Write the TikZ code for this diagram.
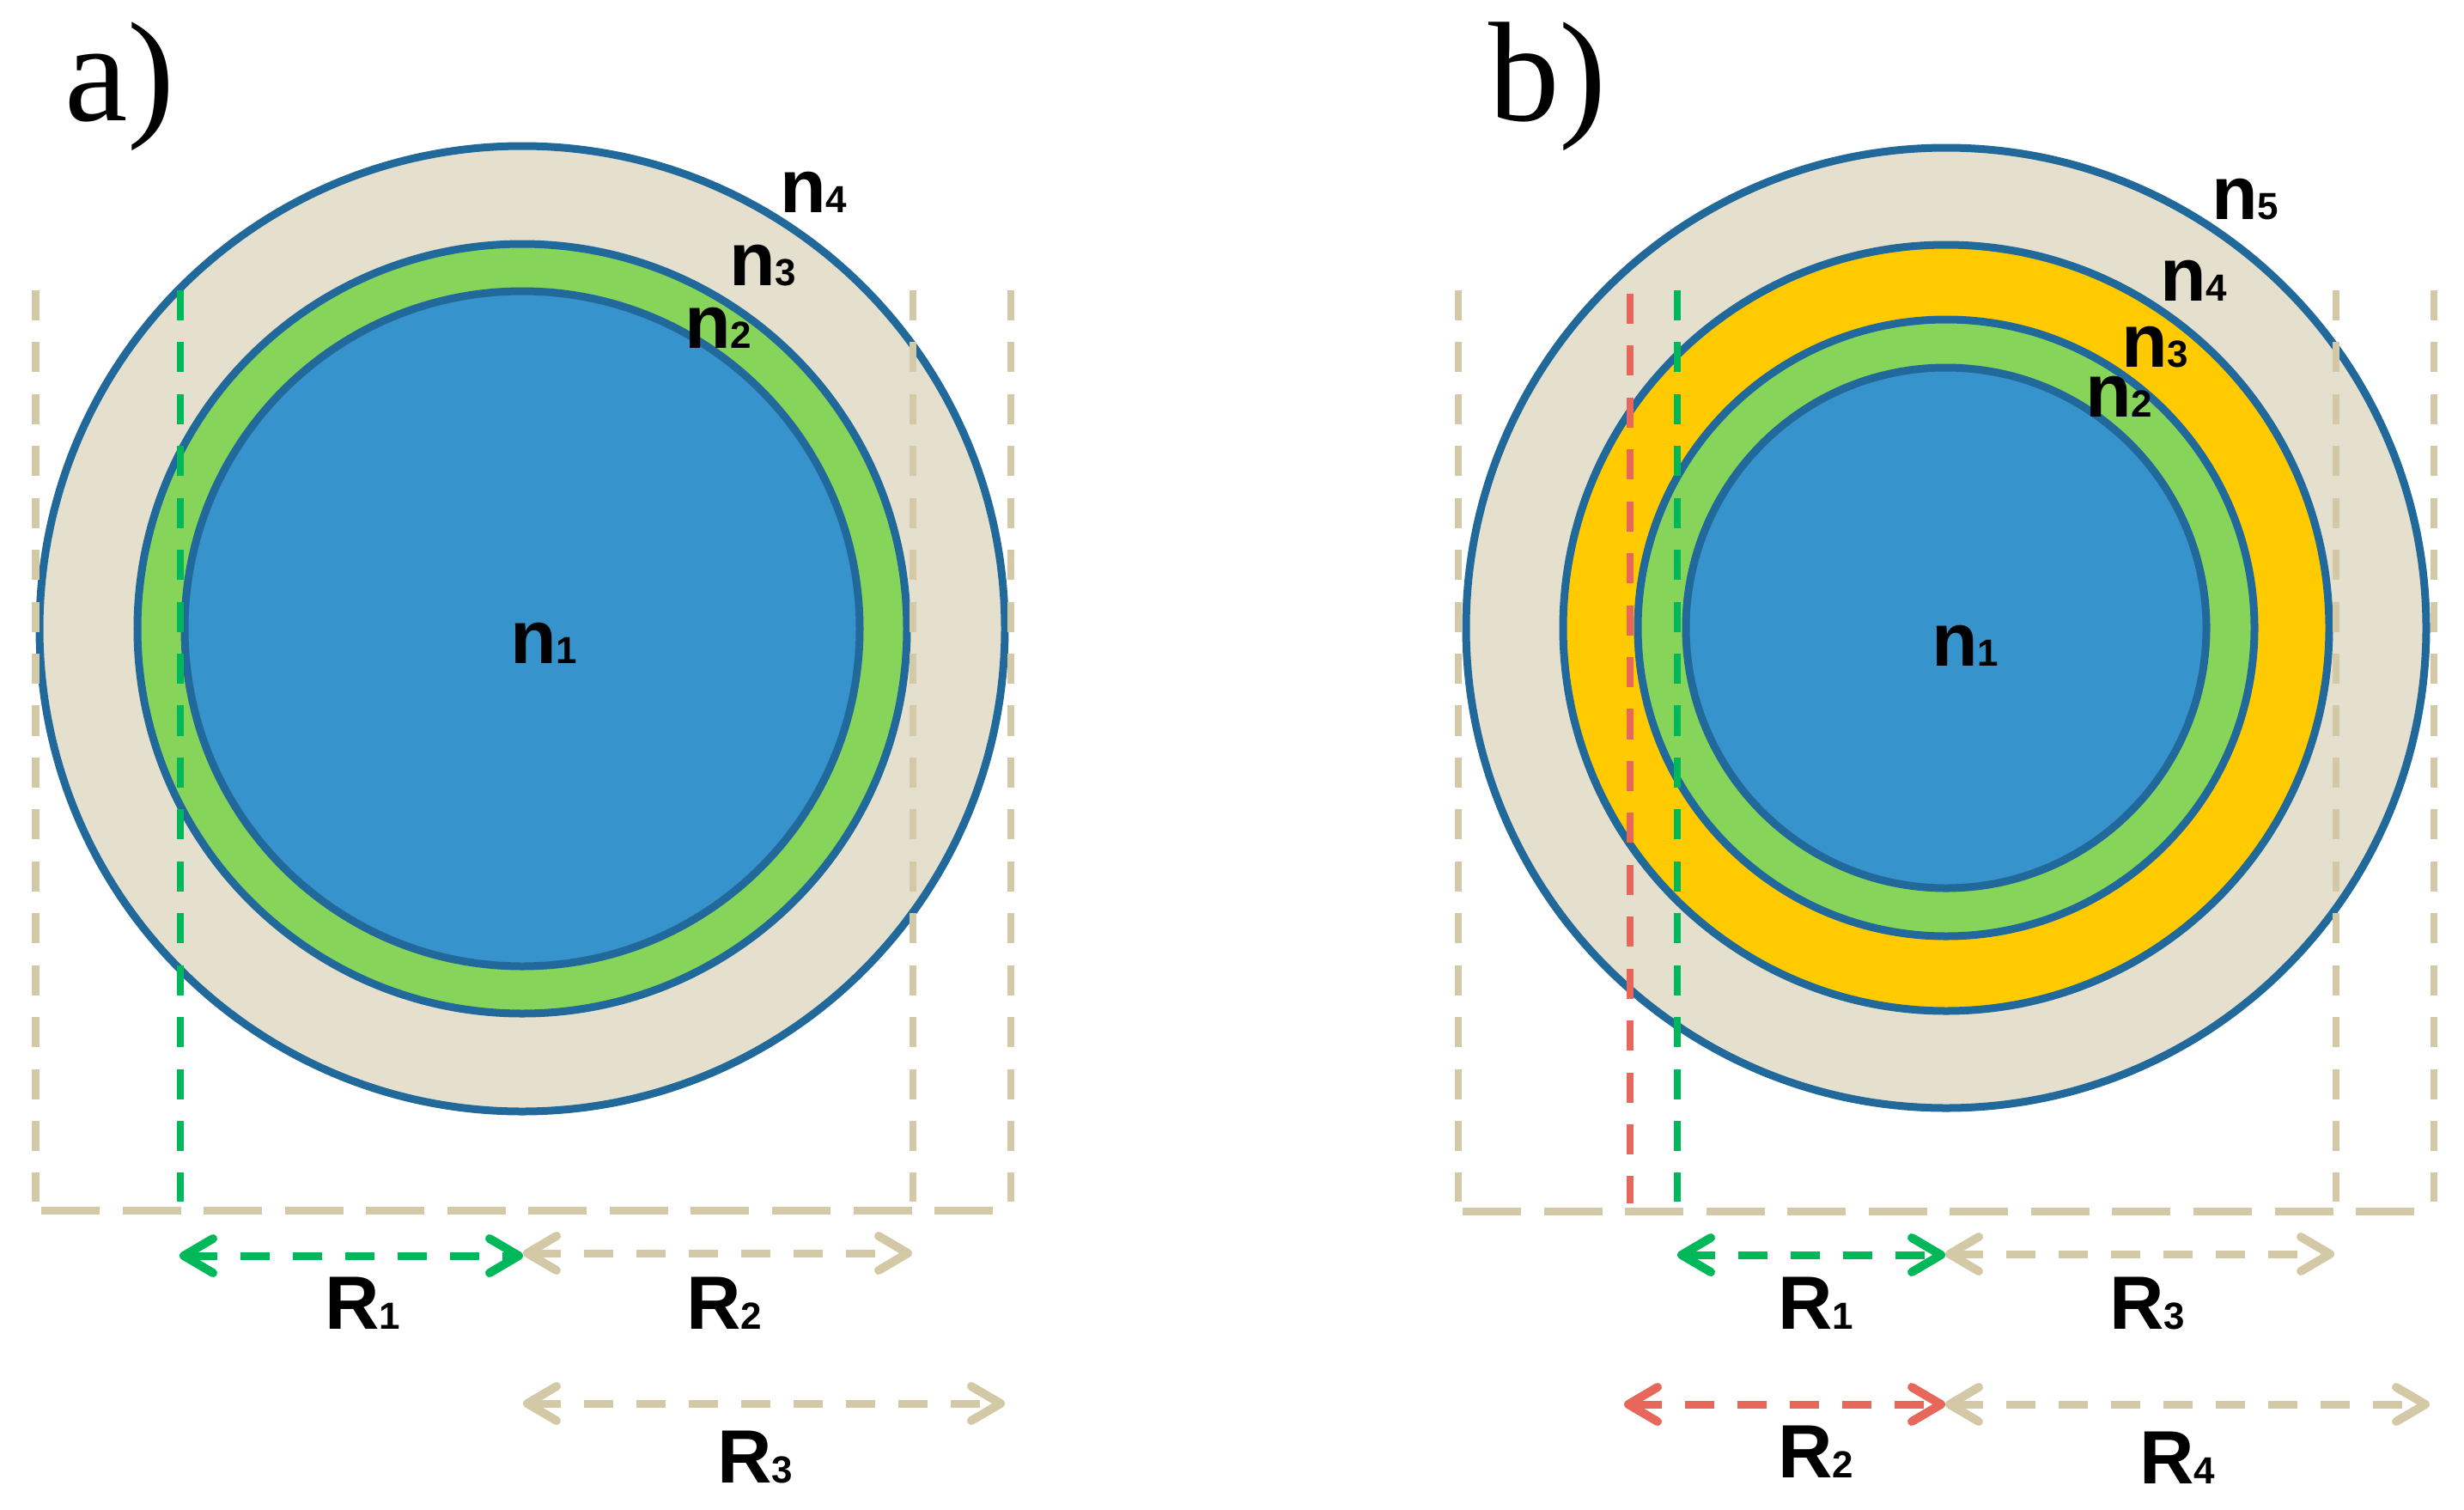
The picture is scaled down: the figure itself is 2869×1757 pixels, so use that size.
\documentclass[tikz,border=0pt]{standalone}
\usepackage{fontspec}
\setmainfont{Liberation Sans}
\newfontfamily\panelfont{Liberation Serif}
\usetikzlibrary{arrows.meta}
\definecolor{ringline}{HTML}{22699B}
\definecolor{bluefill}{HTML}{3793CB}
\definecolor{greenfill}{HTML}{86D55A}
\definecolor{beigefill}{HTML}{E5E0CD}
\definecolor{yellowfill}{HTML}{FFCB00}
\definecolor{beigedash}{HTML}{D4C9A6}
\definecolor{greendash}{HTML}{00B85A}
\definecolor{reddash}{HTML}{E8675B}
\newcommand\mylbl[2]{{\fontsize{25}{30}\selectfont\bfseries #1{\fontsize{12.5}{15}\selectfont #2}}}
\newcommand\mypanel[1]{{\panelfont\fontsize{47}{50}\selectfont #1}}
\begin{document}
\begin{tikzpicture}[x=0.01cm,y=-0.01cm,
  ring/.style={draw=ringline,line width=0.09cm},
  guide/.style={line width=0.08cm, dash pattern=on 0.35cm off 0.254cm},
  baseline/.style={line width=0.09cm, dash pattern=on 0.68cm off 0.265cm},
  barb/.tip={Straight Barb[length=0.34cm,width=0.4cm,line width=0.1cm,line cap=round,line join=round]},
  dimarrow/.style={line width=0.09cm, dash pattern=on 0.34cm off 0.27cm, barb-barb},
  lab/.style={anchor=base west, inner sep=0pt, outer sep=0pt},
]
\useasboundingbox (0,0) rectangle (2869,1757);

% ---------------- panel a ----------------
\coordinate (ca) at (608,732);
\draw[ring, fill=beigefill] (ca) circle[radius=562];
\draw[ring, fill=greenfill] (ca) circle[radius=448];
\draw[ring, fill=bluefill] (ca) circle[radius=393];

\coordinate (aV1t) at (41.5,338);  \coordinate (aV1b) at (41.5,1399);
\coordinate (aV2t) at (210,338);   \coordinate (aV2b) at (210,1399);
\coordinate (aV3t) at (1063,338);  \coordinate (aV3b) at (1063,1399);
\coordinate (aV4t) at (1177,338);  \coordinate (aV4b) at (1177,1399);
\coordinate (aHl) at (48,1409);    \coordinate (aHr) at (1157,1409);
\draw[guide, beigedash] (aV1t) -- (aV1b);
\draw[guide, greendash] (aV2t) -- (aV2b);
\draw[guide, beigedash] (aV3t) -- (aV3b);
\draw[guide, beigedash] (aV4t) -- (aV4b);
\draw[baseline, beigedash] (aHl) -- (aHr);

\coordinate (aR1l) at (209,1462); \coordinate (aR1r) at (609,1462);
\coordinate (aR2l) at (609,1459); \coordinate (aR2r) at (1062,1459);
\coordinate (aR3l) at (609,1634); \coordinate (aR3r) at (1170,1634);
\draw[dimarrow, greendash] (aR1l) -- (aR1r);
\draw[dimarrow, beigedash] (aR2l) -- (aR2r);
\draw[dimarrow, beigedash] (aR3l) -- (aR3r);

\node[lab] (pa) at (75,140) {\mypanel{a)}};
\node[lab] (an1) at (594,772) {\mylbl{n}{1}};
\node[lab] (an2) at (797,405) {\mylbl{n}{2}};
\node[lab] (an3) at (849,332) {\mylbl{n}{3}};
\node[lab] (an4) at (908,247) {\mylbl{n}{4}};
\node[lab] (aL1) at (378,1547) {\mylbl{R}{1}};
\node[lab] (aL2) at (799,1547) {\mylbl{R}{2}};
\node[lab] (aL3) at (835,1726) {\mylbl{R}{3}};

% ---------------- panel b ----------------
\coordinate (cb) at (2266,731);
\draw[ring, fill=beigefill] (cb) circle[radius=559];
\draw[ring, fill=yellowfill] (cb) circle[radius=446];
\draw[ring, fill=greenfill] (cb) circle[radius=359];
\draw[ring, fill=bluefill] (cb) circle[radius=303];

\coordinate (bV1t) at (1698,338);  \coordinate (bV1b) at (1698,1399);
\coordinate (bV2t) at (1898,342);  \coordinate (bV2b) at (1898,1401);
\coordinate (bV3t) at (1953,338);  \coordinate (bV3b) at (1953,1399);
\coordinate (bV4t) at (2720,338);  \coordinate (bV4b) at (2720,1399);
\coordinate (bV5t) at (2834,338);  \coordinate (bV5b) at (2834,1399);
\coordinate (bHl) at (1703,1410);  \coordinate (bHr) at (2815,1410);
\draw[guide, beigedash] (bV1t) -- (bV1b);
\draw[guide, reddash] (bV2t) -- (bV2b);
\draw[guide, greendash] (bV3t) -- (bV3b);
\draw[guide, beigedash] (bV4t) -- (bV4b);
\draw[guide, beigedash] (bV5t) -- (bV5b);
\draw[baseline, beigedash] (bHl) -- (bHr);

\coordinate (bR1l) at (1953,1461); \coordinate (bR1r) at (2265,1461);
\coordinate (bR3l) at (2265,1460); \coordinate (bR3r) at (2718,1460);
\coordinate (bR2l) at (1891,1635); \coordinate (bR2r) at (2265,1635);
\coordinate (bR4l) at (2265,1635); \coordinate (bR4r) at (2829,1635);
\draw[dimarrow, greendash] (bR1l) -- (bR1r);
\draw[dimarrow, beigedash] (bR3l) -- (bR3r);
\draw[dimarrow, reddash] (bR2l) -- (bR2r);
\draw[dimarrow, beigedash] (bR4l) -- (bR4r);

\node[lab] (pb) at (1733,140) {\mypanel{b)}};
\node[lab] (bn1) at (2249,775) {\mylbl{n}{1}};
\node[lab] (bn2) at (2428,485) {\mylbl{n}{2}};
\node[lab] (bn3) at (2470,427) {\mylbl{n}{3}};
\node[lab] (bn4) at (2515,350) {\mylbl{n}{4}};
\node[lab] (bn5) at (2575,255) {\mylbl{n}{5}};
\node[lab] (bL1) at (2070,1547) {\mylbl{R}{1}};
\node[lab] (bL3) at (2456,1547) {\mylbl{R}{3}};
\node[lab] (bL2) at (2070,1720) {\mylbl{R}{2}};
\node[lab] (bL4) at (2491,1727) {\mylbl{R}{4}};
\end{tikzpicture}
\end{document}
